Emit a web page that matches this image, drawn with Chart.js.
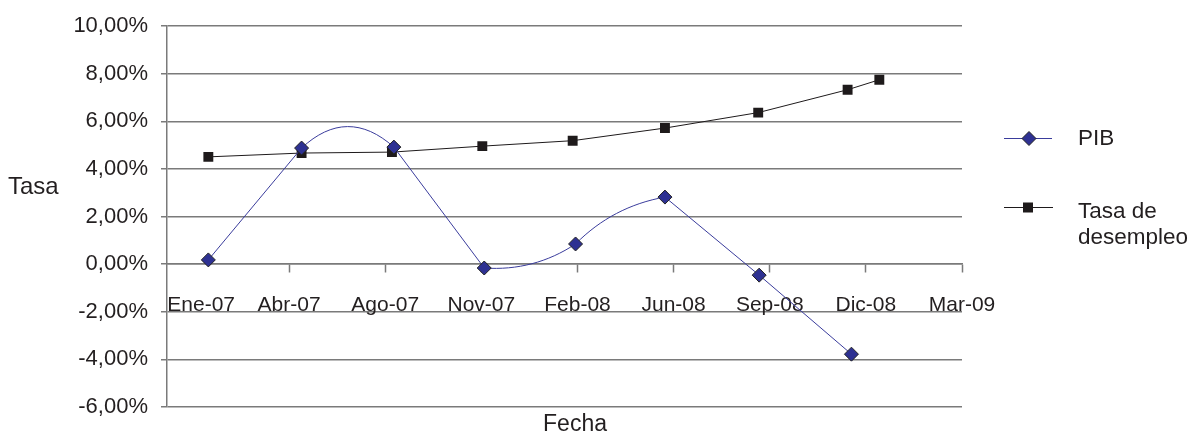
<!DOCTYPE html>
<html>
<head>
<meta charset="utf-8">
<script src="https://cdn.jsdelivr.net/npm/chart.js@4/dist/chart.umd.min.js"></script>
<style>
  html, body { margin: 0; padding: 0; background: #fff; }
  #wrap { width: 1189px; height: 435px; }
</style>
</head>
<body>
<div id="wrap"><canvas id="chart" width="1189" height="435"></canvas></div>
<script>
// x axis: tick labels at positions along the date axis (Ene-07 label sits just inside the plot)
const xLabels = ['Ene-07', 'Abr-07', 'Ago-07', 'Nov-07', 'Feb-08', 'Jun-08', 'Sep-08', 'Dic-08', 'Mar-09'];
const xTickPos = [0.085, 1, 2, 3, 4, 5, 6, 7, 8];

// series (x in tick-position units, y in %)
const pibX = [0.16, 1.13, 2.09, 3.03, 3.98, 4.91, 5.89, 6.85];
const pibY = [0.18, 4.88, 4.92, -0.16, 0.85, 2.82, -0.46, -3.78];
const desX = [0.16, 1.13, 2.07, 3.01, 3.95, 4.91, 5.88, 6.81, 7.14];
const desY = [4.51, 4.67, 4.71, 4.96, 5.19, 5.72, 6.37, 7.33, 7.75];

const yTicks = [10, 8, 6, 4, 2, 0, -2, -4, -6];

const txt = '#231f20';
const gridCol = '#7a7a7a';
const pibCol = '#3a3c9c';
const pibFill = '#2e3192';
const desCol = '#1e1a1b';
const font = 'Liberation Sans, Arial, sans-serif';

const pts = (xs, ys) => xs.map((x, i) => ({ x: x, y: ys[i] }));
const fmtPct = v => v.toFixed(2).replace('.', ',') + '%';

// the PIB curve in the original bows only on some segments (px, + = upward)
const pibBow = [0, 21, 0, -8, 8, 0, 0];
const bow = {
  id: 'bow',
  beforeDatasetDraw(chart, args) {
    if (args.index !== 0) return;
    const meta = args.meta;
    meta.dataset.updateControlPoints(chart.chartArea, 'x');
    const p = meta.data;
    for (let i = 0; i < p.length - 1; i++) {
      const a = p[i], b = p[i + 1];
      const dx = b.x - a.x, dy = b.y - a.y;
      const L = Math.hypot(dx, dy);
      const nx = dy / L, ny = -dx / L;
      const d = pibBow[i] / 0.75;
      a.cp2x = a.x + dx / 3 + nx * d; a.cp2y = a.y + dy / 3 + ny * d;
      b.cp1x = b.x - dx / 3 + nx * d; b.cp1y = b.y - dy / 3 + ny * d;
    }
  }
};

// titles and legend drawn by hand (horizontal "Tasa", two-line legend entry)
const extras = {
  id: 'extras',
  afterDraw(chart) {
    const c = chart.ctx;
    c.save();
    c.fillStyle = txt;
    c.font = '24px ' + font;
    c.textBaseline = 'middle';
    c.textAlign = 'left';
    c.fillText('Tasa', 8, 187);
    c.font = '23px ' + font;
    c.textAlign = 'center';
    c.fillText('Fecha', 575, 425);

    // legend: PIB
    c.strokeStyle = pibCol;
    c.lineWidth = 1;
    c.beginPath(); c.moveTo(1004, 138.5); c.lineTo(1052, 138.5); c.stroke();
    c.fillStyle = pibFill;
    c.strokeStyle = '#222';
    c.beginPath();
    c.moveTo(1029, 131.5); c.lineTo(1036, 138.5); c.lineTo(1029, 145.5); c.lineTo(1022, 138.5);
    c.closePath(); c.fill(); c.stroke();

    // legend: Tasa de desempleo
    c.strokeStyle = desCol;
    c.beginPath(); c.moveTo(1004, 207.5); c.lineTo(1053, 207.5); c.stroke();
    c.fillStyle = desCol;
    c.fillRect(1023, 202.5, 10, 10);

    c.fillStyle = txt;
    c.font = '22.5px ' + font;
    c.textAlign = 'left';
    c.fillText('PIB', 1078, 139);
    c.fillText('Tasa de', 1078, 212);
    c.fillText('desempleo', 1078, 238);
    c.restore();
  }
};

new Chart(document.getElementById('chart'), {
  type: 'line',
  data: {
    datasets: [
      {
        label: 'PIB',
        data: pts(pibX, pibY),
        borderColor: pibCol,
        borderWidth: 1,
        backgroundColor: pibFill,
        pointStyle: 'rectRot',
        pointRadius: 7,
        pointBorderColor: '#222',
        pointBorderWidth: 1,
        tension: 0.0001,
        fill: false
      },
      {
        label: 'Tasa de desempleo',
        data: pts(desX, desY),
        borderColor: desCol,
        borderWidth: 1,
        backgroundColor: desCol,
        pointStyle: 'rect',
        pointRadius: 7,
        pointBorderWidth: 0,
        tension: 0,
        fill: false
      }
    ]
  },
  options: {
    responsive: false,
    animation: false,
    layout: { padding: { top: 21, right: 227, bottom: 28, left: 0 } },
    plugins: { legend: { display: false }, tooltip: { enabled: false } },
    scales: {
      x: {
        type: 'linear',
        position: { y: 0 },
        min: -0.27,
        max: 8,
        afterBuildTicks: s => { s.ticks = xTickPos.map(v => ({ value: v })); },
        grid: {
          drawOnChartArea: false,
          drawTicks: true,
          tickLength: 8,
          tickWidth: 1.5,
          tickColor: ctx => (ctx.index === 0 ? 'rgba(0,0,0,0)' : gridCol)
        },
        border: { display: true, color: gridCol, width: 1.5 },
        ticks: {
          autoSkip: false,
          maxRotation: 0,
          padding: 20,
          color: txt,
          font: { family: font, size: 21 },
          callback: (v, i) => xLabels[i]
        }
      },
      y: {
        min: -6,
        max: 10,
        afterBuildTicks: s => { s.ticks = yTicks.map(v => ({ value: v })); },
        afterFit: s => { s.width = 167; },
        grid: { color: gridCol, lineWidth: 1.5, tickLength: 6 },
        border: { display: true, color: gridCol, width: 1.5 },
        ticks: {
          padding: 13,
          color: txt,
          font: { family: font, size: 22 },
          callback: v => fmtPct(v)
        }
      }
    }
  },
  plugins: [bow, extras]
});
</script>
</body>
</html>
